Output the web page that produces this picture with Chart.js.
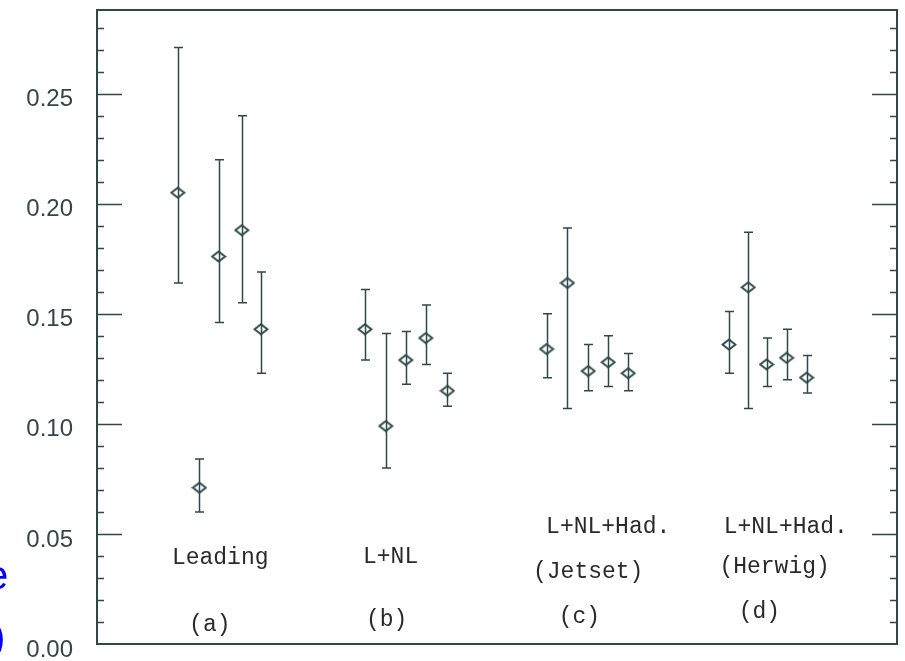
<!DOCTYPE html>
<html>
<head>
<meta charset="utf-8">
<script src="https://cdn.jsdelivr.net/npm/chart.js@4"></script>
<style>
  html, body { margin: 0; padding: 0; background: #ffffff; }
  canvas { display: block; }
</style>
</head>
<body>
<canvas id="chart" width="905" height="661"></canvas>
<script>
// Horizontal position of every point (arbitrary units, 0..100 across the frame).
const xPos = [10.1, 12.8, 15.2, 18.1, 20.5,
              33.5, 36.1, 38.6, 41.1, 43.8,
              56.2, 58.8, 61.4, 63.9, 66.4,
              79.0, 81.4, 83.7, 86.2, 88.7];
// Central values.
const values = [0.205, 0.071, 0.176, 0.188, 0.143,
                0.143, 0.099, 0.129, 0.139, 0.115,
                0.134, 0.164, 0.124, 0.128, 0.123,
                0.136, 0.162, 0.127, 0.130, 0.121];
// Upper ends of the error bars.
const upper = [0.271, 0.084, 0.220, 0.240, 0.169,
               0.161, 0.141, 0.142, 0.154, 0.123,
               0.150, 0.189, 0.136, 0.140, 0.132,
               0.151, 0.187, 0.139, 0.143, 0.131];
// Lower ends of the error bars.
const lower = [0.164, 0.060, 0.146, 0.155, 0.123,
               0.129, 0.080, 0.118, 0.127, 0.108,
               0.121, 0.107, 0.115, 0.117, 0.115,
               0.123, 0.107, 0.117, 0.120, 0.114];
// Tick labels on the left axis.
const tickLabels = ['0.00', '0.05', '0.10', '0.15', '0.20', '0.25'];
// Group captions.
const captions = ['Leading', '(a)', 'L+NL', '(b)',
                  'L+NL+Had.', '(Jetset)', '(c)',
                  'L+NL+Had.', '(Herwig)', '(d)'];
const captionX = [15.4, 14.1, 36.7, 36.2, 63.9, 61.4, 60.3, 86.1, 84.7, 82.8];
const captionY = [0.039, 0.0086, 0.0395, 0.0109, 0.0532, 0.0327, 0.0123, 0.0532, 0.035, 0.0145];

const ink = '#2e4848';

// Flattened hollow diamond used as marker.
function diamond() {
    const c = document.createElement('canvas');
    c.width = 16; c.height = 13;
    const g = c.getContext('2d');
    g.strokeStyle = ink;
    g.lineWidth = 2;
    g.beginPath();
    g.moveTo(1.5, 6.5); g.lineTo(8, 1.5); g.lineTo(14.5, 6.5); g.lineTo(8, 11.5);
    g.closePath();
    g.stroke();
    return c;
}

// Frame, inward ticks, error bars and captions.
const decor = {
    id: 'decor',
    beforeDatasetsDraw(chart) {
        const ctx = chart.ctx;
        const a = chart.chartArea;
        const y = chart.scales.y;
        const x = chart.scales.x;
        ctx.save();
        ctx.strokeStyle = ink;
        ctx.lineWidth = 2;
        ctx.strokeRect(a.left, a.top, a.right - a.left, a.bottom - a.top);
        // Minor and major ticks pointing into the frame.
        ctx.lineWidth = 1.6;
        for (let i = 1; i <= 28; i++) {
            const py = Math.round(y.getPixelForValue(i / 100)) + 0.5;
            const len = (i % 5 === 0) ? 25 : 7;
            ctx.beginPath();
            ctx.moveTo(a.left, py); ctx.lineTo(a.left + len, py);
            ctx.moveTo(a.right, py); ctx.lineTo(a.right - len, py);
            ctx.stroke();
        }
        // Error bars.
        ctx.lineWidth = 1.5;
        for (let i = 0; i < values.length; i++) {
            const px = Math.round(x.getPixelForValue(xPos[i])) + 0.5;
            const top = y.getPixelForValue(upper[i]);
            const bot = y.getPixelForValue(lower[i]);
            ctx.beginPath();
            ctx.moveTo(px, top); ctx.lineTo(px, bot);
            ctx.moveTo(px - 4.5, top); ctx.lineTo(px + 4.5, top);
            ctx.moveTo(px - 4.5, bot); ctx.lineTo(px + 4.5, bot);
            ctx.stroke();
        }
        // Captions.
        ctx.fillStyle = '#2a2a2a';
        ctx.font = '23px "Liberation Mono", monospace';
        ctx.textAlign = 'center';
        ctx.textBaseline = 'middle';
        captions.forEach((t, i) => {
            ctx.fillText(t, x.getPixelForValue(captionX[i]), y.getPixelForValue(captionY[i]));
        });
        // Cut-off blue characters at the left edge.
        ctx.fillStyle = '#0000ff';
        ctx.font = '40px "Liberation Sans", Arial, sans-serif';
        ctx.textAlign = 'left';
        ctx.fillText('e', -14, 578);
        ctx.fillText(')', -8, 640);
        ctx.restore();
    }
};

new Chart(document.getElementById('chart'), {
    type: 'scatter',
    data: {
        datasets: [{
            data: xPos.map((v, i) => ({ x: v, y: values[i] })),
            pointStyle: diamond(),
            pointRadius: 7,
            pointHoverRadius: 7
        }]
    },
    options: {
        responsive: false,
        animation: false,
        events: [],
        layout: { padding: { left: 0, top: 10, right: 5, bottom: 17 } },
        plugins: { legend: { display: false }, tooltip: { enabled: false } },
        scales: {
            x: { type: 'linear', min: 0, max: 100, display: false },
            y: {
                min: 0,
                max: 0.288,
                afterFit(scale) {
                    scale.width = 97;
                    scale.paddingTop = 0;
                    scale.paddingBottom = 0;
                },
                grid: { display: false, drawTicks: false },
                border: { display: false },
                ticks: {
                    stepSize: 0.05,
                    includeBounds: false,
                    padding: 24,
                    labelOffset: 6,
                    color: '#354646',
                    font: { family: '"Liberation Sans", Arial, sans-serif', size: 24 },
                    callback: (v) => {
                        const k = Math.round(v / 0.05);
                        return Math.abs(v - k * 0.05) < 1e-6 ? tickLabels[k] : '';
                    }
                }
            }
        }
    },
    plugins: [decor]
});
</script>
</body>
</html>
